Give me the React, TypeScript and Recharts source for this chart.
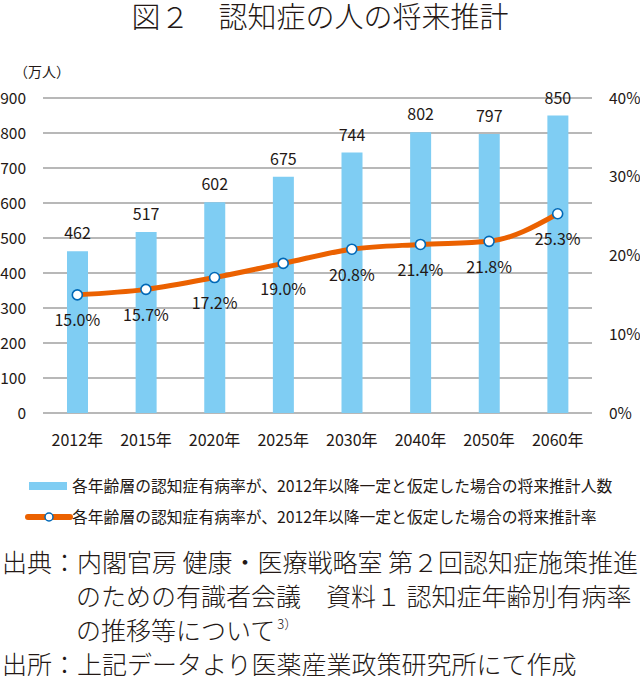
import {
  ComposedChart,
  Bar,
  Line,
  XAxis,
  YAxis,
  CartesianGrid,
  LabelList,
} from 'recharts'

const years = ['2012年', '2015年', '2020年', '2025年', '2030年', '2040年', '2050年', '2060年']
const patients = [462, 517, 602, 675, 744, 802, 797, 850]
const rates = [15.0, 15.7, 17.2, 19.0, 20.8, 21.4, 21.8, 25.3]
const leftTicks = [0, 100, 200, 300, 400, 500, 600, 700, 800, 900]
const rightTicks = [0, 10, 20, 30, 40]

const FONT = '"Noto Sans CJK JP", "Noto Sans", sans-serif'
const TEXT = '#231815'
const BLUE = '#7fcdf3'
const ORANGE = '#eb6100'
const DOT = '#0068b7'

const data = years.map((year, i) => ({
  year,
  patients: patients[i],
  rate: rates[i],
}))

const xTickStyle = { fill: TEXT, fontSize: 16, fontFamily: FONT }
const yTickStyle = { fill: TEXT, fontSize: 15.5, fontFamily: FONT }
const labelStyle = { fill: TEXT, fontSize: 16, fontFamily: FONT }

const sourceLines = [
  { text: '出典：内閣官房 健康・医療戦略室 第２回認知症施策推進', indent: false, top: 549 },
  { text: 'のための有識者会議　資料１ 認知症年齢別有病率', indent: true, top: 583 },
  { text: 'の推移等について', indent: true, top: 617, note: '3）' },
  { text: '出所：上記データより医薬産業政策研究所にて作成', indent: false, top: 651 },
]

export default function App() {
  return (
    <div
      style={{
        position: 'absolute',
        left: 0,
        top: 0,
        width: 640,
        height: 676,
        background: '#fff',
        fontFamily: FONT,
        color: TEXT,
        overflow: 'hidden',
      }}
    >
      <div
        style={{
          position: 'absolute',
          top: 1,
          left: 0,
          width: 640,
          textAlign: 'center',
          fontSize: 29,
          lineHeight: '28px',
          fontWeight: 300,
          whiteSpace: 'nowrap',
        }}
      >
        図２　認知症の人の将来推計
      </div>

      <div style={{ position: 'absolute', left: 14, top: 62, fontSize: 14, lineHeight: '18px' }}>
        （万人）
      </div>

      <div style={{ position: 'absolute', left: 0, top: 0 }}>
        <ComposedChart
          width={640}
          height={453}
          data={data}
          margin={{ top: 98, right: 0, bottom: 0, left: 0 }}
        >
          <CartesianGrid vertical={false} stroke="#a0a0a0" strokeWidth={1.6} yAxisId="left" />
          <XAxis
            dataKey="year"
            height={40}
            axisLine={false}
            tickLine={false}
            tickMargin={16}
            interval={0}
            tick={xTickStyle}
          />
          <YAxis
            yAxisId="left"
            orientation="left"
            width={43}
            domain={[0, 900]}
            ticks={leftTicks}
            axisLine={false}
            tickLine={false}
            tickMargin={11}
            tick={yTickStyle}
          />
          <YAxis
            yAxisId="right"
            orientation="right"
            width={48}
            domain={[0, 40]}
            ticks={rightTicks}
            axisLine={false}
            tickLine={false}
            tickMargin={11}
            tickFormatter={(v: number) => `${v}%`}
            tick={yTickStyle}
          />
          <Bar yAxisId="left" dataKey="patients" fill={BLUE} barSize={21} isAnimationActive={false}>
            <LabelList dataKey="patients" position="top" offset={12} style={labelStyle} />
          </Bar>
          <Line
            yAxisId="right"
            type="monotone"
            dataKey="rate"
            stroke={ORANGE}
            strokeWidth={5}
            dot={{ r: 5, fill: '#fff', stroke: DOT, strokeWidth: 1.6 }}
            isAnimationActive={false}
          >
            <LabelList
              dataKey="rate"
              position="bottom"
              offset={20}
              formatter={(v: number) => `${v.toFixed(1)}%`}
              style={labelStyle}
            />
          </Line>
        </ComposedChart>
      </div>

      {/* legend */}
      <div style={{ position: 'absolute', left: 0, top: 476, width: 640, fontSize: 15.8, lineHeight: '20px', whiteSpace: 'nowrap' }}>
        <div style={{ position: 'absolute', left: 29, top: 6, width: 38, height: 8, background: BLUE }} />
        <div style={{ position: 'absolute', left: 72, top: 0 }}>
          各年齢層の認知症有病率が、2012年以降一定と仮定した場合の将来推計人数
        </div>
        <svg style={{ position: 'absolute', left: 24, top: 31 }} width={50} height={20}>
          <line x1={4} y1={10} x2={46} y2={10} stroke={ORANGE} strokeWidth={6} strokeLinecap="round" />
          <circle cx={25} cy={10} r={4} fill="#fff" stroke={DOT} strokeWidth={1.5} />
        </svg>
        <div style={{ position: 'absolute', left: 72, top: 31 }}>
          各年齢層の認知症有病率が、2012年以降一定と仮定した場合の将来推計率
        </div>
      </div>

      {/* source */}
      {sourceLines.map((line) => (
        <div
          key={line.text}
          style={{
            position: 'absolute',
            left: line.indent ? 76 : 2,
            top: line.top,
            fontSize: 25,
            lineHeight: '24px',
            fontWeight: 300,
            whiteSpace: 'nowrap',
          }}
        >
          {line.text}
          {line.note && (
            <span style={{ fontSize: 13, position: 'relative', top: -11, marginLeft: 2 }}>{line.note}</span>
          )}
        </div>
      ))}
    </div>
  )
}
